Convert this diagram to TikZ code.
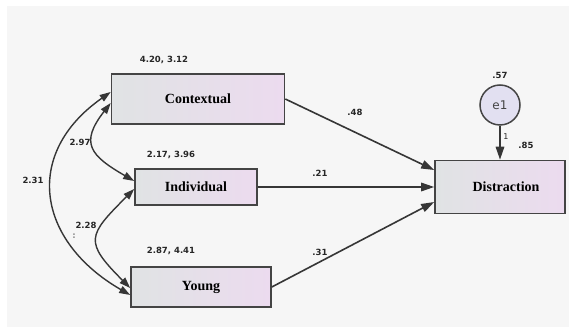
\documentclass[tikz,border=0pt]{standalone}
\usepackage{fontspec}
\setmainfont{Liberation Serif}
\newfontfamily\lblfont{DejaVu Sans}
\usetikzlibrary{arrows.meta,positioning}

\definecolor{boxL}{HTML}{E0E3E4}
\definecolor{boxM}{HTML}{E2E0F1}
\definecolor{boxR}{HTML}{ECDBEF}
\definecolor{edge}{HTML}{444444}
\definecolor{bg}{HTML}{F6F6F6}

\tikzset{
  var/.style={draw=edge,line width=1.6pt,left color=boxL,middle color=boxM,right color=boxR,inner sep=0pt,font=\fontsize{14}{16}\selectfont\bfseries},
  err/.style={circle,draw=edge,line width=1.5pt,fill=boxM,minimum size=40pt,inner sep=0pt,font=\lblfont\fontsize{12}{14}\selectfont,text=edge},
  est/.style={font=\lblfont\bfseries\fontsize{8.5}{10}\selectfont,text=black!85,inner sep=0pt},
  reg/.style={->,draw=edge!80!black,line width=1.6pt},
  cov/.style={{Triangle[length=11pt,width=7.5pt]}-{Triangle[length=11pt,width=7.5pt]},draw=edge!80!black,line width=1.4pt},
}

\begin{document}
\begin{tikzpicture}[x=1pt,y=1pt,>={Triangle[length=13pt,width=8.5pt]}]
        \fill[white] (0,0) rectangle (574,-331);
        \fill[bg] (7,-6) rectangle (569,-327);
        % observed variables
        \node[var,minimum width=173pt,minimum height=50pt] (ctx) at (198,-99) {Contextual};
        \node[var,minimum width=122pt,minimum height=36pt] (ind) at (196,-187) {Individual};
        \node[var,minimum width=140pt,minimum height=40pt] (yng) at (201,-287) {Young};
        \node[var,minimum width=130pt,minimum height=53pt] (dis) at (500,-187) {\hspace{12pt}Distraction};
        \node[err] (e1) at (500,-105) {e1};
        % estimates
        \node[est] (m1) at (164,-60) {4.20, 3.12};
        \node[est] (m2) at (171,-155) {2.17, 3.96};
        \node[est] (m3) at (171,-251) {2.87, 4.41};
        \node[est] (c12) at (80,-142) {2.97};
        \node[est] (c13) at (33,-180) {2.31};
        \node[est] (c23) at (86,-225) {2.28};
        \node[est,text=black!45] (dots) at (74,-236) {:};
        \node[est] (b1) at (355,-112) {.48};
        \node[est] (b2) at (320,-173) {.21};
        \node[est] (b3) at (320,-252) {.31};
        \node[est] (v1) [above=5pt of e1] {.57};
        \node[est] (r2) at (526,-145) {.85};
        \node[est,font=\lblfont\fontsize{8}{10}\selectfont] (one) at (506,-137) {1};
        % paths
        \draw[reg] (ctx.east) -- ([yshift=17pt]dis.west);
        \draw[reg] (ind.east) -- (dis.west);
        \draw[reg] (yng.east) -- ([yshift=-15pt]dis.west);
        \draw[reg] (e1.south) -- (dis.north);
        % covariances
        \draw[cov] ([yshift=7pt]ctx.west) to[out=215,in=150,looseness=1.35] ([yshift=-8pt]yng.west);
        \draw[cov] ([yshift=-4pt]ctx.west) to[out=232,in=150,looseness=1.6] ([yshift=6pt]ind.west);
        \draw[cov] ([yshift=-2pt]ind.west) to[out=225,in=135,looseness=1.7] ([yshift=-1pt]yng.west);
    \end{tikzpicture}
\end{document}
